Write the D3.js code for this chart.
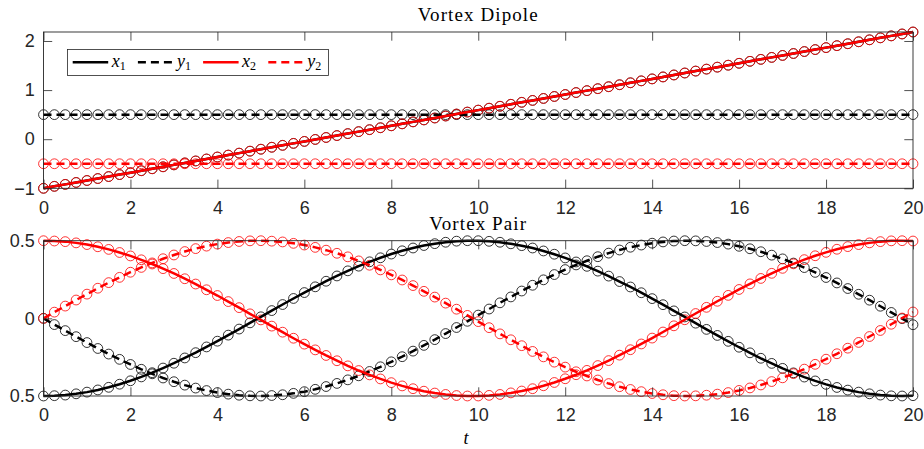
<!DOCTYPE html>
<html>
<head>
<meta charset="utf-8">
<script src="https://cdn.jsdelivr.net/npm/d3@7"></script>
<style>
body { margin: 0; background: #fff; }
svg { display: block; }
</style>
</head>
<body>
<svg width="924" height="449"></svg>
<script>
// time grid, one sample every 0.25
var times = d3.range(81).map(function(k){ return k * 0.25; });

// Vortex Dipole
var dipoleX1 = [
  -1.000,-0.960,-0.920,-0.881,-0.841,-0.801,-0.761,-0.721,-0.682,-0.642,
  -0.602,-0.562,-0.523,-0.483,-0.443,-0.403,-0.363,-0.324,-0.284,-0.244,
  -0.204,-0.164,-0.125,-0.085,-0.045,-0.005, 0.035, 0.074, 0.114, 0.154,
   0.194, 0.233, 0.273, 0.313, 0.353, 0.393, 0.432, 0.472, 0.512, 0.552,
   0.592, 0.631, 0.671, 0.711, 0.751, 0.790, 0.830, 0.870, 0.910, 0.950,
   0.989, 1.029, 1.069, 1.109, 1.149, 1.188, 1.228, 1.268, 1.308, 1.348,
   1.387, 1.427, 1.467, 1.507, 1.546, 1.586, 1.626, 1.666, 1.706, 1.745,
   1.785, 1.825, 1.865, 1.905, 1.944, 1.984, 2.024, 2.064, 2.104, 2.143,
   2.183];
var dipoleY1 = [
  0.5,0.5,0.5,0.5,0.5,0.5,0.5,0.5,0.5,0.5,
  0.5,0.5,0.5,0.5,0.5,0.5,0.5,0.5,0.5,0.5,
  0.5,0.5,0.5,0.5,0.5,0.5,0.5,0.5,0.5,0.5,
  0.5,0.5,0.5,0.5,0.5,0.5,0.5,0.5,0.5,0.5,
  0.5,0.5,0.5,0.5,0.5,0.5,0.5,0.5,0.5,0.5,
  0.5,0.5,0.5,0.5,0.5,0.5,0.5,0.5,0.5,0.5,
  0.5,0.5,0.5,0.5,0.5,0.5,0.5,0.5,0.5,0.5,
  0.5,0.5,0.5,0.5,0.5,0.5,0.5,0.5,0.5,0.5,
  0.5];
var dipoleX2 = [
  -1.000,-0.960,-0.920,-0.881,-0.841,-0.801,-0.761,-0.721,-0.682,-0.642,
  -0.602,-0.562,-0.523,-0.483,-0.443,-0.403,-0.363,-0.324,-0.284,-0.244,
  -0.204,-0.164,-0.125,-0.085,-0.045,-0.005, 0.035, 0.074, 0.114, 0.154,
   0.194, 0.233, 0.273, 0.313, 0.353, 0.393, 0.432, 0.472, 0.512, 0.552,
   0.592, 0.631, 0.671, 0.711, 0.751, 0.790, 0.830, 0.870, 0.910, 0.950,
   0.989, 1.029, 1.069, 1.109, 1.149, 1.188, 1.228, 1.268, 1.308, 1.348,
   1.387, 1.427, 1.467, 1.507, 1.546, 1.586, 1.626, 1.666, 1.706, 1.745,
   1.785, 1.825, 1.865, 1.905, 1.944, 1.984, 2.024, 2.064, 2.104, 2.143,
   2.183];
var dipoleY2 = [
  -0.5,-0.5,-0.5,-0.5,-0.5,-0.5,-0.5,-0.5,-0.5,-0.5,
  -0.5,-0.5,-0.5,-0.5,-0.5,-0.5,-0.5,-0.5,-0.5,-0.5,
  -0.5,-0.5,-0.5,-0.5,-0.5,-0.5,-0.5,-0.5,-0.5,-0.5,
  -0.5,-0.5,-0.5,-0.5,-0.5,-0.5,-0.5,-0.5,-0.5,-0.5,
  -0.5,-0.5,-0.5,-0.5,-0.5,-0.5,-0.5,-0.5,-0.5,-0.5,
  -0.5,-0.5,-0.5,-0.5,-0.5,-0.5,-0.5,-0.5,-0.5,-0.5,
  -0.5,-0.5,-0.5,-0.5,-0.5,-0.5,-0.5,-0.5,-0.5,-0.5,
  -0.5,-0.5,-0.5,-0.5,-0.5,-0.5,-0.5,-0.5,-0.5,-0.5,
  -0.5];

// Vortex Pair
var pairX1 = [
  -0.500,-0.498,-0.494,-0.486,-0.475,-0.461,-0.444,-0.424,-0.402,-0.377,
  -0.350,-0.320,-0.289,-0.255,-0.221,-0.184,-0.147,-0.108,-0.069,-0.029,
   0.010, 0.050, 0.089, 0.128, 0.166, 0.203, 0.239, 0.273, 0.306, 0.336,
   0.364, 0.390, 0.414, 0.435, 0.453, 0.469, 0.481, 0.490, 0.497, 0.500,
   0.500, 0.496, 0.490, 0.480, 0.468, 0.453, 0.434, 0.413, 0.389, 0.363,
   0.335, 0.304, 0.272, 0.237, 0.202, 0.165, 0.127, 0.088, 0.048, 0.009,
  -0.031,-0.071,-0.110,-0.148,-0.186,-0.222,-0.257,-0.290,-0.322,-0.351,
  -0.378,-0.403,-0.425,-0.445,-0.462,-0.475,-0.486,-0.494,-0.499,-0.500,
  -0.498];
var pairY1 = [
   0.000,-0.040,-0.079,-0.118,-0.156,-0.194,-0.230,-0.264,-0.297,-0.328,
  -0.357,-0.384,-0.408,-0.430,-0.449,-0.465,-0.478,-0.488,-0.495,-0.499,
  -0.500,-0.497,-0.492,-0.483,-0.472,-0.457,-0.439,-0.419,-0.396,-0.370,
  -0.342,-0.312,-0.280,-0.247,-0.211,-0.174,-0.137,-0.098,-0.059,-0.019,
   0.021, 0.060, 0.100, 0.138, 0.176, 0.213, 0.248, 0.282, 0.314, 0.344,
   0.371, 0.397, 0.420, 0.440, 0.458, 0.472, 0.484, 0.492, 0.498, 0.500,
   0.499, 0.495, 0.488, 0.478, 0.464, 0.448, 0.429, 0.407, 0.383, 0.356,
   0.327, 0.296, 0.263, 0.228, 0.192, 0.155, 0.117, 0.078, 0.038,-0.002,
  -0.041];
var pairX2 = [
   0.500, 0.498, 0.494, 0.486, 0.475, 0.461, 0.444, 0.424, 0.402, 0.377,
   0.350, 0.320, 0.289, 0.255, 0.221, 0.184, 0.147, 0.108, 0.069, 0.029,
  -0.010,-0.050,-0.089,-0.128,-0.166,-0.203,-0.239,-0.273,-0.306,-0.336,
  -0.364,-0.390,-0.414,-0.435,-0.453,-0.469,-0.481,-0.490,-0.497,-0.500,
  -0.500,-0.496,-0.490,-0.480,-0.468,-0.453,-0.434,-0.413,-0.389,-0.363,
  -0.335,-0.304,-0.272,-0.237,-0.202,-0.165,-0.127,-0.088,-0.048,-0.009,
   0.031, 0.071, 0.110, 0.148, 0.186, 0.222, 0.257, 0.290, 0.322, 0.351,
   0.378, 0.403, 0.425, 0.445, 0.462, 0.475, 0.486, 0.494, 0.499, 0.500,
   0.498];
var pairY2 = [
   0.000, 0.040, 0.079, 0.118, 0.156, 0.194, 0.230, 0.264, 0.297, 0.328,
   0.357, 0.384, 0.408, 0.430, 0.449, 0.465, 0.478, 0.488, 0.495, 0.499,
   0.500, 0.497, 0.492, 0.483, 0.472, 0.457, 0.439, 0.419, 0.396, 0.370,
   0.342, 0.312, 0.280, 0.247, 0.211, 0.174, 0.137, 0.098, 0.059, 0.019,
  -0.021,-0.060,-0.100,-0.138,-0.176,-0.213,-0.248,-0.282,-0.314,-0.344,
  -0.371,-0.397,-0.420,-0.440,-0.458,-0.472,-0.484,-0.492,-0.498,-0.500,
  -0.499,-0.495,-0.488,-0.478,-0.464,-0.448,-0.429,-0.407,-0.383,-0.356,
  -0.327,-0.296,-0.263,-0.228,-0.192,-0.155,-0.117,-0.078,-0.038, 0.002,
   0.041];

var tTicks = [0, 2, 4, 6, 8, 10, 12, 14, 16, 18, 20];
var dipoleTicks = [-1, 0, 1, 2];
var pairTicks = [-0.5, 0, 0.5];
var legendNames = [["x", "1"], ["y", "1"], ["x", "2"], ["y", "2"]];

var svg = d3.select("svg");
var axisColor = "#262626";
var sansFont = "'Liberation Sans', Arial, Helvetica, sans-serif";
var serifFont = "'Liberation Serif', 'Times New Roman', serif";
var tickLen = 8.7;
var dashes = "8,5";

var x = d3.scaleLinear().domain([0, 20]).range([43.5, 913]);

// the figure is cut just left of the long y tick labels
svg.append("defs").append("clipPath").attr("id", "figclip")
  .append("rect").attr("x", 9.6).attr("y", 0).attr("width", 915).attr("height", 449);

function styleSeries(values, color, dashed) {
  return { values: values, color: color, dashed: dashed };
}

function drawPanel(opt) {
  var y = d3.scaleLinear().domain(opt.domain).range([opt.bottom, opt.top]);
  var g = svg.append("g");

  // markers first, lines over them
  opt.series.forEach(function(s){
    g.append("g").selectAll("circle")
      .data(times)
      .enter().append("circle")
      .attr("cx", function(d){ return x(d); })
      .attr("cy", function(d, i){ return y(s.values[i]); })
      .attr("r", 4.9)
      .attr("fill", "none")
      .attr("stroke", s.color)
      .attr("stroke-width", 0.8);
  });

  var line = d3.line()
    .x(function(d){ return x(d); });

  opt.series.forEach(function(s){
    line.y(function(d, i){ return y(s.values[i]); });
    g.append("path")
      .attr("d", line(times))
      .attr("fill", "none")
      .attr("stroke", s.color)
      .attr("stroke-width", 2.5)
      .attr("stroke-dasharray", s.dashed ? dashes : null);
  });

  // box + ticks on all four sides
  var ax = g.append("g");

  ax.append("g")
    .attr("transform", "translate(0," + opt.bottom + ")")
    .call(d3.axisBottom(x).tickValues(tTicks).tickSize(-tickLen).tickPadding(12.6));
  ax.append("g")
    .attr("transform", "translate(0," + opt.top + ")")
    .call(d3.axisTop(x).tickValues(tTicks).tickSize(-tickLen).tickFormat(""));
  ax.append("g")
    .attr("clip-path", "url(#figclip)")
    .append("g")
    .attr("transform", "translate(" + x(0) + ",0)")
    .call(d3.axisLeft(y).tickValues(opt.ticks).tickSize(-tickLen).tickPadding(8.8)
      .tickFormat(d3.format("")));
  ax.append("g")
    .attr("transform", "translate(" + x(20) + ",0)")
    .call(d3.axisRight(y).tickValues(opt.ticks).tickSize(-tickLen).tickFormat(""));

  ax.selectAll(".domain").remove();
  ax.selectAll(".tick line").attr("stroke", axisColor).attr("stroke-width", 0.8);
  ax.selectAll(".tick text")
    .attr("fill", axisColor)
    .attr("font-family", sansFont)
    .attr("font-size", 18);

  g.append("rect")
    .attr("x", x(0)).attr("y", opt.top)
    .attr("width", x(20) - x(0)).attr("height", opt.bottom - opt.top)
    .attr("fill", "none").attr("stroke", axisColor).attr("stroke-width", 0.9);

  svg.append("text")
    .attr("x", (x(0) + x(20)) / 2)
    .attr("y", opt.titleY)
    .attr("text-anchor", "middle")
    .attr("font-family", serifFont)
    .attr("font-size", 19)
    .attr("letter-spacing", 1.1)
    .attr("fill", "#000")
    .text(opt.title);
}

drawPanel({
  title: "Vortex Dipole", titleY: 21,
  domain: [-1, 2.183], top: 32, bottom: 188.3, ticks: dipoleTicks,
  series: [
    styleSeries(dipoleX1, "#000000", false),
    styleSeries(dipoleY1, "#000000", true),
    styleSeries(dipoleX2, "#ff0000", false),
    styleSeries(dipoleY2, "#ff0000", true)
  ]
});

drawPanel({
  title: "Vortex Pair", titleY: 229.5,
  domain: [-0.5, 0.5], top: 240.7, bottom: 396, ticks: pairTicks,
  series: [
    styleSeries(pairX1, "#000000", false),
    styleSeries(pairY1, "#000000", true),
    styleSeries(pairX2, "#ff0000", false),
    styleSeries(pairY2, "#ff0000", true)
  ]
});

// legend of the top panel
var legend = svg.append("g");
legend.append("rect")
  .attr("x", 67.5).attr("y", 49.5).attr("width", 261).attr("height", 26)
  .attr("fill", "#fff").attr("stroke", axisColor).attr("stroke-width", 0.8);

var legendColors = ["#000000", "#000000", "#ff0000", "#ff0000"];
legendNames.forEach(function(n, i){
  var x0 = 72.7 + i * 65.2;
  legend.append("line")
    .attr("x1", x0).attr("x2", x0 + 35.5)
    .attr("y1", 62.3).attr("y2", 62.3)
    .attr("stroke", legendColors[i])
    .attr("stroke-width", 2.5)
    .attr("stroke-dasharray", i % 2 ? dashes : null);
  var txt = legend.append("text")
    .attr("x", x0 + 39).attr("y", 67)
    .attr("font-family", serifFont)
    .attr("font-size", 18)
    .attr("fill", "#000");
  txt.append("tspan").attr("font-style", "italic").text(n[0]);
  txt.append("tspan").attr("font-size", 12).attr("dy", 2.5).text(n[1]);
});

// x label
svg.append("text")
  .attr("x", 466).attr("y", 444)
  .attr("text-anchor", "middle")
  .attr("font-family", serifFont)
  .attr("font-style", "italic")
  .attr("font-size", 18)
  .attr("fill", "#000")
  .text("t");
</script>
</body>
</html>
